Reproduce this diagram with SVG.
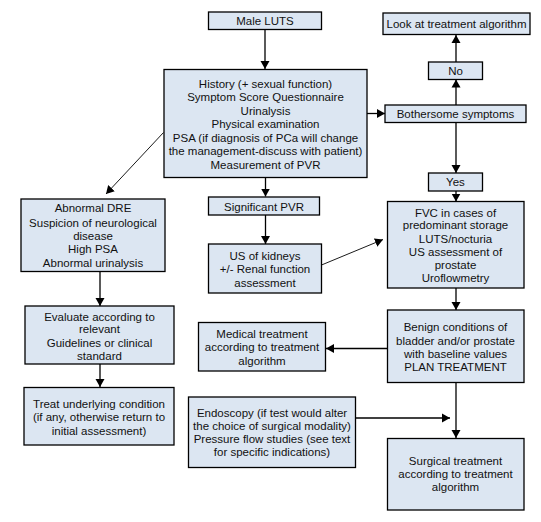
<svg xmlns="http://www.w3.org/2000/svg" width="541" height="522" viewBox="0 0 541 522">
<style>
.box{fill:#dce6f2;stroke:#000;stroke-width:1.3}
text{font-family:"Liberation Sans",Arial,sans-serif;font-size:11.5px;fill:#111;text-anchor:middle}
.c{stroke:#000;stroke-width:1.3;fill:none}
.t{stroke:#000;stroke-width:0.9;fill:none}
</style>
<defs>
<marker id="ah" markerWidth="9" markerHeight="10" refX="8" refY="5" orient="auto" markerUnits="userSpaceOnUse">
<path d="M0,0.5 L8,5 L0,9.5 Z" fill="#000"/>
</marker>
</defs>
<rect width="541" height="522" fill="#fff"/>
<g id="connectors">
<line class="c" x1="265" y1="29" x2="265" y2="69" marker-end="url(#ah)"/>
<line class="c" x1="367" y1="113.5" x2="385" y2="113.5" marker-end="url(#ah)"/>
<line class="c" x1="456" y1="105" x2="456" y2="79.5" marker-end="url(#ah)"/>
<line class="c" x1="456" y1="62" x2="456" y2="35" marker-end="url(#ah)"/>
<line class="c" x1="456" y1="122.5" x2="456" y2="173" marker-end="url(#ah)"/>
<line class="c" x1="456" y1="191" x2="456" y2="201.5" marker-end="url(#ah)"/>
<line class="c" x1="456" y1="288" x2="456" y2="310" marker-end="url(#ah)"/>
<line class="c" x1="387" y1="348.5" x2="326" y2="348.5" marker-end="url(#ah)"/>
<line class="c" x1="456" y1="383" x2="456" y2="438" marker-end="url(#ah)"/>
<line class="c" x1="356" y1="418" x2="450" y2="418" marker-end="url(#ah)"/>
<line class="c" x1="265.5" y1="178" x2="265.5" y2="196.5" marker-end="url(#ah)"/>
<line class="c" x1="265.5" y1="215" x2="265.5" y2="244" marker-end="url(#ah)"/>
<line class="t" x1="321.5" y1="265" x2="383" y2="239.5" marker-end="url(#ah)"/>
<line class="t" x1="163.5" y1="132.5" x2="106" y2="194" marker-end="url(#ah)"/>
<line class="c" x1="100" y1="272" x2="100" y2="306" marker-end="url(#ah)"/>
<line class="c" x1="100" y1="364" x2="100" y2="387" marker-end="url(#ah)"/>
</g>
<g id="male-luts">
<rect class="box" x="208.5" y="12" width="113" height="17.5"/>
<text x="265" y="25">Male LUTS</text>
</g>
<g id="history">
<rect class="box" x="164" y="69.5" width="203" height="108"/>
<text x="265.5" y="87.5">History (+ sexual function)</text>
<text x="265.5" y="101">Symptom Score Questionnaire</text>
<text x="265.5" y="114.5">Urinalysis</text>
<text x="265.5" y="128">Physical examination</text>
<text x="265.5" y="141.5">PSA (if diagnosis of PCa will change</text>
<text x="265.5" y="155">the management-discuss with patient)</text>
<text x="265.5" y="168.5">Measurement of PVR</text>
</g>
<g id="look">
<rect class="box" x="383" y="13" width="147" height="21.5"/>
<text x="456.5" y="28">Look at treatment algorithm</text>
</g>
<g id="no">
<rect class="box" x="428.5" y="62" width="54" height="17.5"/>
<text x="455.5" y="75">No</text>
</g>
<g id="bothersome">
<rect class="box" x="385" y="105" width="141" height="17.5"/>
<text x="455.5" y="118">Bothersome symptoms</text>
</g>
<g id="yes">
<rect class="box" x="428.5" y="173" width="54" height="18"/>
<text x="455.5" y="186">Yes</text>
</g>
<g id="fvc">
<rect class="box" x="387.5" y="201.5" width="136.5" height="86.5"/>
<text x="455.5" y="216.5">FVC in cases of</text>
<text x="455.5" y="229">predominant storage</text>
<text x="455.5" y="243">LUTS/nocturia</text>
<text x="455.5" y="256">US assessment of</text>
<text x="455.5" y="269">prostate</text>
<text x="455.5" y="282">Uroflowmetry</text>
</g>
<g id="benign">
<rect class="box" x="387.5" y="310" width="136.5" height="72.5"/>
<text x="455.5" y="330.5">Benign conditions of</text>
<text x="455.5" y="344.5">bladder and/or prostate</text>
<text x="455.5" y="358">with baseline values</text>
<text x="455.5" y="370.5">PLAN TREATMENT</text>
</g>
<g id="medical">
<rect class="box" x="198.5" y="322.5" width="127" height="48.5"/>
<text x="262" y="338">Medical treatment</text>
<text x="262" y="351">according to treatment</text>
<text x="262" y="365">algorithm</text>
</g>
<g id="endoscopy">
<rect class="box" x="188.5" y="397" width="167" height="70.5"/>
<text x="272" y="417">Endoscopy (if test would alter</text>
<text x="272" y="430">the choice of surgical modality)</text>
<text x="272" y="443">Pressure flow studies (see text</text>
<text x="272" y="455.5">for specific indications)</text>
</g>
<g id="surgical">
<rect class="box" x="387.5" y="438.5" width="136.5" height="71.5"/>
<text x="455.5" y="464.5">Surgical treatment</text>
<text x="455.5" y="478">according to treatment</text>
<text x="455.5" y="491">algorithm</text>
</g>
<g id="significant-pvr">
<rect class="box" x="208.5" y="197" width="111" height="18"/>
<text x="264" y="210.5">Significant PVR</text>
</g>
<g id="us-kidneys">
<rect class="box" x="208.5" y="244" width="113" height="49"/>
<text x="265" y="260">US of kidneys</text>
<text x="265" y="273">+/- Renal function</text>
<text x="265" y="286.5">assessment</text>
</g>
<g id="abnormal">
<rect class="box" x="21" y="199" width="144" height="72.5"/>
<text x="93" y="212">Abnormal DRE</text>
<text x="93" y="226.5">Suspicion of neurological</text>
<text x="93" y="240">disease</text>
<text x="93" y="253">High PSA</text>
<text x="93" y="266.5">Abnormal urinalysis</text>
</g>
<g id="evaluate">
<rect class="box" x="25" y="306" width="149" height="58"/>
<text x="99.5" y="320.5">Evaluate according to</text>
<text x="99.5" y="333">relevant</text>
<text x="99.5" y="346.5">Guidelines or clinical</text>
<text x="99.5" y="359.5">standard</text>
</g>
<g id="treat">
<rect class="box" x="24" y="387.5" width="150" height="57.5"/>
<text x="99" y="408">Treat underlying condition</text>
<text x="99" y="421">(if any, otherwise return to</text>
<text x="99" y="434.5">initial assessment)</text>
</g>
</svg>
